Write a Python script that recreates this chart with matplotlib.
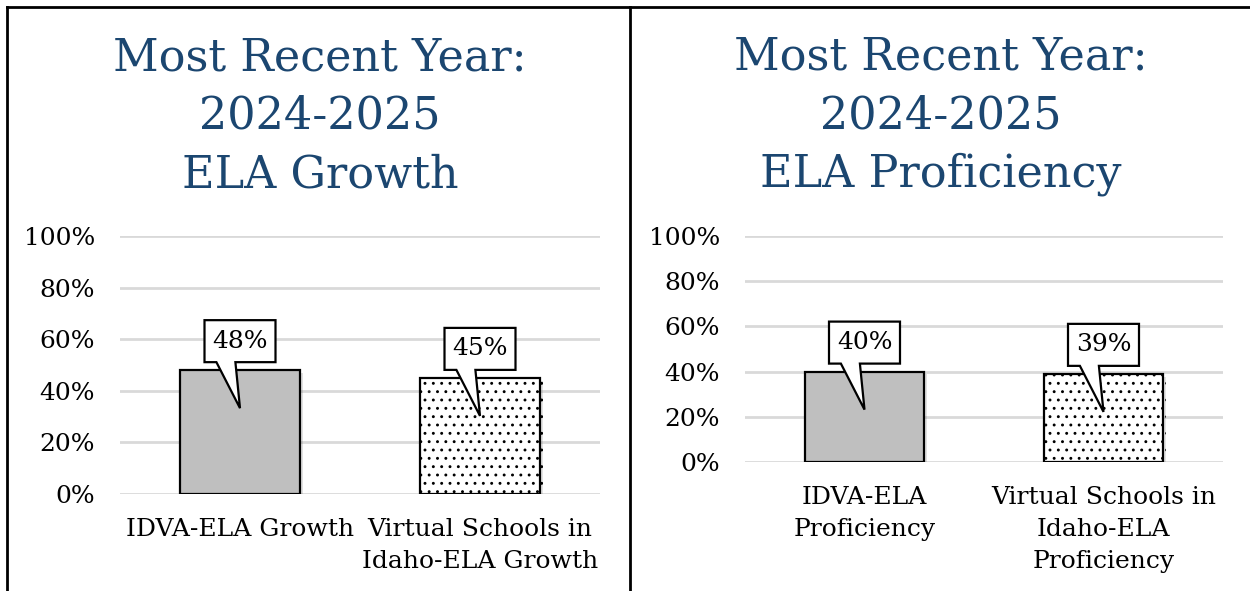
import matplotlib.pyplot as plt
import matplotlib.transforms as mtransforms
from matplotlib.patches import Polygon
from matplotlib.lines import Line2D
import matplotlib.patheffects as pe

# Data.
growthLabels = ["IDVA-ELA Growth", "Virtual Schools in\nIdaho-ELA Growth"]
growthValues = [0.48, 0.45]
profLabels = ["IDVA-ELA\nProficiency", "Virtual Schools in\nIdaho-ELA\nProficiency"]
profValues = [0.40, 0.39]
titles = ["Most Recent Year:\n2024-2025\nELA Growth",
          "Most Recent Year:\n2024-2025\nELA Proficiency"]
yticks = [0, 0.2, 0.4, 0.6, 0.8, 1.0]

plt.rcParams.update({
    "font.family": "DejaVu Serif",
    "hatch.linewidth": 0.9,
    "hatch.color": "black",
})

W, H = 1250, 591
fig = plt.figure(figsize=(W / 100, H / 100), dpi=100)

titleColor = "#1B4670"
gridColor = "#D9D9D9"


def px(x0, y0, x1, y1):
    """Pixel box (top-left origin) -> figure rect."""
    return [x0 / W, 1 - y1 / H, (x1 - x0) / W, (y1 - y0) / H]


def callout(ax, x, value, text):
    # Box + pointer in pixels relative to the bar top.
    trans = (mtransforms.Affine2D().scale(1 / 100) + fig.dpi_scale_trans
             + mtransforms.ScaledTranslation(x, value, ax.transData))
    pts = [(-35.5, 8), (-23.6, 8), (0, -38), (-4.6, 8), (35.5, 8),
           (35.5, 50), (-35.5, 50)]
    poly = Polygon(pts, closed=True, transform=trans, facecolor="white",
                   edgecolor="black", lw=1.6, zorder=5, clip_on=False)
    ax.add_patch(poly)
    ax.text(0, 29, text, transform=trans, ha="center", va="center",
            fontsize=18, zorder=6)


def panel(rect, labels, values, title, tcenter):
    ax = fig.add_axes(rect)
    xs = range(len(values))
    bars = ax.bar(xs, values, width=0.5, edgecolor="black", linewidth=1.6,
                  zorder=3)
    bars[0].set_facecolor("#BFBFBF")
    bars[1].set_facecolor("white")
    bars[1].set_hatch("..")
    for b in bars:
        b.set_path_effects([pe.SimplePatchShadow(offset=(2, -2), alpha=0.15),
                            pe.Normal()])
    ax.set_xlim(-0.5, 1.5)
    ax.set_ylim(0, 1.0)
    ax.set_yticks(yticks)
    ax.set_yticklabels([f"{int(round(t * 100))}%" for t in yticks])
    ax.set_xticks(list(xs))
    ax.set_xticklabels(labels, linespacing=1.52)
    ax.tick_params(axis="both", length=0, labelsize=18)
    ax.tick_params(axis="y", pad=18)
    ax.tick_params(axis="x", pad=17)
    ax.yaxis.grid(True, color=gridColor, lw=2, zorder=0)
    ax.set_axisbelow(True)
    for s in ax.spines.values():
        s.set_visible(False)
    for x, v in zip(xs, values):
        callout(ax, x, v, f"{int(round(v * 100))}%")
    fig.text(tcenter / W, 1 - 116 / H, title, ha="center", va="center",
             fontsize=32, color=titleColor, linespacing=1.45)
    return ax


panel(px(120, 236, 600, 494), growthLabels, growthValues, titles[0], 320)
panel(px(745, 236, 1223, 462), profLabels, profValues, titles[1], 941)

# Frame lines.
lw = 2
fig.add_artist(Line2D([7 / W, 1], [1 - 7 / H, 1 - 7 / H], color="black", lw=lw))
fig.add_artist(Line2D([7 / W, 7 / W], [0, 1 - 7 / H], color="black", lw=lw))
fig.add_artist(Line2D([630 / W, 630 / W], [0, 1 - 7 / H], color="black", lw=lw))

fig.savefig("out.png", dpi=100)
